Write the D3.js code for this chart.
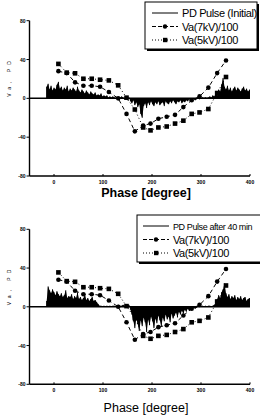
<!DOCTYPE html>
<html>
<head>
<meta charset="utf-8">
<script src="https://cdn.jsdelivr.net/npm/d3@7"></script>
<style>
body { margin: 0; background: #fff; }
svg { display: block; }
</style>
</head>
<body>
<div id="chart"></div>
<script>
// applied voltage samples (same for both panels)
var vaPhase = [9, 26, 43, 60, 77, 94, 112, 131, 148, 165, 182, 197, 213, 230, 247, 264, 281, 297, 315, 333, 351]
var va7 = [28, 26, 16.5, 13, 13, 12, 6.5, 0, -16, -34, -28, -26, -21, -19, -17, -9, -2, 2, 11, 26, 39]
var va5 = [35.5, 26.5, 25.8, 20.2, 20.2, 19.2, 18.5, 13.4, 0.7, -11.5, -30, -33, -30, -29, -26, -23, -16, -14.5, -11, 5.5, 22]

// PD pulses, one value every 3 degrees starting at -15
var pdInitial = [12, 15, 9, 13, 8, 11, 9, 14, 17, 10, 12, 8, 11, 9, 13, 7, 10, 8, 11, 9,
  7, 12, 8, 6, 9, 7, 5, 8, 6, 4, 7, 5, 4, 6, 3, 4, 3, 5, 2, 3,
  2, 3, 1, 2, 1, 2, 1, 0.5, 1, -1, 1, 2, 1, -1, 2, -2, 1, -3, -5, -2,
  -7, -4, -9, -6, -16, -20, -8, -5, -10, -4, -7, -3, -6, -8, -4, -6, -3, -7, -5, -4,
  -8, -3, -5, -6, -3, -5, -2, -4, -6, -3, -4, -2, -5, -3, -4, -2, -3, -1, -3, -2,
  -1, -2, -1, 1, -1, 0.5, 1, 0.5, 1, 0.5, 1, 2, 1, 3, 2, 5, 3, 9, 7, 14,
  21, 12, 9, 13, 8, 11, 7, 10, 12, 8, 11, 9, 7, 10, 12, 8, 10, 7, 9]
var pdAfter = [6, 21, 17, 14, 18, 15, 12, 16, 13, 11, 14, 10, 12, 17, 9, 11, 10, 13, 8, 11,
  9, 15, 8, 10, 7, 9, 12, 7, 9, 6, 8, 10, 6, 7, 5, 3, 1, 1, 0.5, 1,
  0.5, 1, 0.5, 1, 0.5, 1, 1, 0.5, 1, 2, 1, 1, 2, 1, 1, 1, 2, -3, -8, -15,
  -22, -12, -18, -25, -14, -20, -11, -16, -26, -13, -19, -10, -15, -22, -12, -17, -9, -14, -20, -11,
  -15, -8, -13, -10, -16, -7, -12, -9, -6, -11, -5, -8, -4, -7, -3, -5, -2, -4, -2, -3,
  -1, -2, -1, 0.5, 1, 0.5, 1, 0.5, 1, 0.5, 1, 1, 0.5, 1, 2, 4, 8, 12, 9, 15,
  18, 24, 14, 10, 13, 8, 11, 9, 12, 7, 10, 8, 11, 7, 9, 10, 6, 8, 9]

var xTicks = [0, 100, 200, 300, 400]
var yTicks = [-80, -40, 0, 40, 80]

var svg = d3.select("#chart").append("svg")
  .attr("width", 260)
  .attr("height", 415)
  .style("font-family", '"Liberation Sans", Arial, sans-serif')

var x = d3.scaleLinear().domain([-50, 400]).range([29.5, 250])

function panel(yTop, yBottom, pd, pdLabel, box, labelY, labelWeight)
{
  var y = d3.scaleLinear().domain([-80, 80]).range([yBottom, yTop])
  var g = svg.append("g")

  // axes
  g.append("line").attr("x1", x(-50)).attr("x2", x(-50)).attr("y1", y(80)).attr("y2", y(-80))
    .attr("stroke", "#000").attr("stroke-width", 1.4)
  g.append("line").attr("x1", x(-50)).attr("x2", x(400)).attr("y1", y(-80)).attr("y2", y(-80))
    .attr("stroke", "#000").attr("stroke-width", 1.4)

  g.selectAll(".yt").data(yTicks).enter().append("line")
    .attr("x1", x(-50) - 3).attr("x2", x(-50))
    .attr("y1", function(d) { return y(d) }).attr("y2", function(d) { return y(d) })
    .attr("stroke", "#000").attr("stroke-width", 1)
  g.selectAll(".ytl").data(yTicks).enter().append("text")
    .attr("x", x(-50) - 4).attr("y", function(d) { return y(d) + 2 })
    .attr("text-anchor", "end").attr("font-size", 5).attr("font-weight", "bold")
    .text(function(d) { return d })

  g.selectAll(".xt").data(xTicks).enter().append("line")
    .attr("x1", function(d) { return x(d) }).attr("x2", function(d) { return x(d) })
    .attr("y1", y(-80)).attr("y2", y(-80) - 2)
    .attr("stroke", "#000").attr("stroke-width", 1)
  g.selectAll(".xtl").data(xTicks).enter().append("text")
    .attr("x", function(d) { return x(d) }).attr("y", y(-80) + 8)
    .attr("text-anchor", "middle").attr("font-size", 5).attr("font-weight", "bold")
    .text(function(d) { return d })

  g.append("text")
    .attr("x", 146).attr("y", labelY)
    .attr("text-anchor", "middle").attr("font-size", 12.5).attr("font-weight", labelWeight)
    .text("Phase [degree]")

  g.append("text")
    .attr("transform", "translate(11," + y(22) + ")rotate(-90)")
    .attr("text-anchor", "middle").attr("font-size", 5).attr("letter-spacing", 4)
    .text("Va, PD")

  // PD pulses
  var pdPhase = d3.range(-15, 400, 3)
  g.append("line").attr("x1", x(-50)).attr("x2", x(400)).attr("y1", y(0)).attr("y2", y(0))
    .attr("stroke", "#000").attr("stroke-width", 1.5)
  var pdArea = d3.area()
    .x(function(d, i) { return x(pdPhase[i]) })
    .y0(y(0))
    .y1(function(d) { return y(d) })
  g.append("path").datum(pd).attr("d", pdArea).attr("fill", "#000")
  g.selectAll(".pd").data(pd).enter().append("line")
    .attr("x1", function(d, i) { return x(pdPhase[i]) })
    .attr("x2", function(d, i) { return x(pdPhase[i]) })
    .attr("y1", y(0))
    .attr("y2", function(d) { return y(d) })
    .attr("stroke", "#000").attr("stroke-width", 1)

  // voltage curves
  var vline = d3.line().x(function(d, i) { return x(vaPhase[i]) }).y(function(d) { return y(d) })
  g.append("path").datum(va7).attr("d", vline)
    .attr("fill", "none").attr("stroke", "#000").attr("stroke-width", 1).attr("stroke-dasharray", "4,3")
  g.append("path").datum(va5).attr("d", vline)
    .attr("fill", "none").attr("stroke", "#000").attr("stroke-width", 1).attr("stroke-dasharray", "1,2.5")
  g.selectAll(".c7").data(va7).enter().append("circle")
    .attr("cx", function(d, i) { return x(vaPhase[i]) })
    .attr("cy", function(d) { return y(d) })
    .attr("r", 2.3).attr("fill", "#000")
  g.selectAll(".s5").data(va5).enter().append("rect")
    .attr("x", function(d, i) { return x(vaPhase[i]) - 2.3 })
    .attr("y", function(d) { return y(d) - 2.3 })
    .attr("width", 4.6).attr("height", 4.6).attr("fill", "#000")

  // legend
  var lg = g.append("g").attr("transform", "translate(" + box[0] + "," + box[1] + ")")
  lg.append("rect").attr("x", 2).attr("y", 2).attr("width", box[2]).attr("height", box[3]).attr("fill", "#000")
  lg.append("rect").attr("x", 0).attr("y", 0).attr("width", box[2]).attr("height", box[3])
    .attr("fill", "#fff").attr("stroke", "#000").attr("stroke-width", 1)
  var names = [pdLabel, "Va(7kV)/100", "Va(5kV)/100"]
  var dash = [null, "4,2", "1,2"]
  names.forEach(function(n, i) {
    var ry = 11 + i * 13.5
    lg.append("line").attr("x1", box[4]).attr("x2", box[4] + 26).attr("y1", ry).attr("y2", ry)
      .attr("stroke", "#000").attr("stroke-width", 1).attr("stroke-dasharray", dash[i])
    if(i == 1) lg.append("circle").attr("cx", box[4] + 13).attr("cy", ry).attr("r", 2.2).attr("fill", "#000")
    if(i == 2) lg.append("rect").attr("x", box[4] + 11).attr("y", ry - 2.2).attr("width", 4.4).attr("height", 4.4).attr("fill", "#000")
    lg.append("text").attr("x", box[4] + 30).attr("y", ry + 4)
      .attr("font-size", i == 0 ? box[5] : 11)
      .attr("letter-spacing", -0.4)
      .text(n)
  })
}

panel(20.7, 176, pdInitial, "PD Pulse (Initial)", [145, 2, 112, 47, 7, 11], 197, "bold")
panel(229.3, 384.3, pdAfter, "PD Pulse after 40 min", [137, 215, 130, 47, 6, 9], 412, "normal")
</script>
</body>
</html>
